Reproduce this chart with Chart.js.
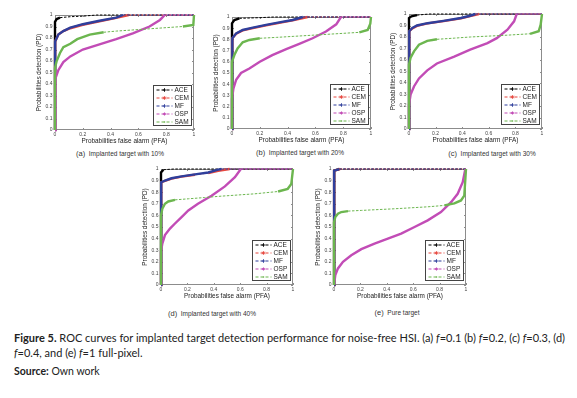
<!DOCTYPE html>
<html><head><meta charset="utf-8">
<script src="https://cdn.jsdelivr.net/npm/chart.js@4/dist/chart.umd.min.js"></script>
<style>
html,body{margin:0;padding:0;background:#fff;}
body{width:577px;height:398px;position:relative;overflow:hidden;font-family:"Liberation Sans",Arial,sans-serif;}
.sub{position:absolute;font-size:6.5px;color:#333;white-space:nowrap;transform:translate(-50%,-50%);line-height:8px;}
.sub span{font-size:7.5px;}
#cap{position:absolute;left:14px;top:330px;font-family:Lato,"Open Sans",sans-serif;font-size:11px;color:#222;line-height:15px;white-space:nowrap;}
#src{position:absolute;left:14px;top:364px;font-family:Lato,"Open Sans",sans-serif;font-size:10.5px;color:#222;line-height:14px;white-space:nowrap;}
#cap b,#src b{font-weight:bold;}
</style></head><body>
<div id="cap"><b>Figure 5.</b> ROC curves for implanted target detection performance for noise-free HSI. (a) <i>f</i>=0.1 (b) <i>f</i>=0.2, (c) <i>f</i>=0.3, (d)<br><i>f</i>=0.4, and (e) <i>f</i>=1 full-pixel.</div>
<div id="src"><b>Source:</b> Own work</div>
<script>
// ---------- data ----------
const seriesNames = ['ACE','CEM','MF','OSP','SAM'];
const xTickValues = [0,0.2,0.4,0.6,0.8,1];
const xTickLabels = ['0','0.2','0.4','0.6','0.8','1'];
const yTickValues = [0,0.1,0.2,0.3,0.4,0.5,0.6,0.7,0.8,0.9,1];
const yTickLabels = ['0','0.1','0.2','0.3','0.4','0.5','0.6','0.7','0.8','0.9','1'];
const subLetters = ['(a)','(b)','(c)','(d)','(e)'];
const subTexts = ['Implanted target with 10%','Implanted target with 20%','Implanted target with 30%','Implanted target with 40%','Pure target'];

// (a) f = 0.1
const aACE = [[0,0],[0,0.94],[0.012,0.965],[0.036,0.977],[0.108,0.985],[0.2,0.99],[0.3,1],[1,1]];
const aCEM = [[0,0],[0,0.48],[0.002,0.77],[0.024,0.83],[0.06,0.86],[0.11,0.885],[0.2,0.915],[0.32,0.945],[0.44,0.975],[0.53,1],[1,1]];
const aMF  = [[0,0],[0,0.48],[0.002,0.77],[0.024,0.83],[0.06,0.86],[0.11,0.89],[0.2,0.92],[0.32,0.95],[0.44,0.977],[0.49,1],[1,1]];
const aOSP = [[0,0],[0,0.39],[0.007,0.45],[0.024,0.52],[0.06,0.59],[0.11,0.64],[0.2,0.70],[0.32,0.745],[0.44,0.79],[0.56,0.84],[0.68,0.9],[0.755,0.957],[0.79,1],[1,1]];
const aSAM = [[0,0],[0,0.54],[0.012,0.6],[0.036,0.67],[0.06,0.72],[0.11,0.75],[0.16,0.79],[0.25,0.83],[0.35,0.85],[0.44,0.86],[0.56,0.87],[0.68,0.88],[0.8,0.89],[0.92,0.9],[0.995,0.913],[1,1]];
// (b) f = 0.2
const bACE = [[0,0],[0,0.943],[0.017,0.973],[0.053,0.988],[0.2,0.994],[0.3,1],[1,1]];
const bCEM = [[0,0],[0,0.57],[0.005,0.81],[0.03,0.85],[0.077,0.88],[0.15,0.9],[0.245,0.925],[0.34,0.948],[0.436,0.97],[0.544,1],[1,1]];
const bMF  = [[0,0],[0,0.57],[0.005,0.81],[0.03,0.854],[0.077,0.884],[0.15,0.905],[0.245,0.93],[0.34,0.952],[0.436,0.973],[0.51,1],[1,1]];
const bOSP = [[0,0],[0,0.27],[0.01,0.36],[0.03,0.44],[0.065,0.5],[0.125,0.54],[0.2,0.6],[0.29,0.66],[0.39,0.714],[0.484,0.76],[0.58,0.81],[0.676,0.87],[0.75,0.935],[0.784,1],[1,1]];
const bSAM = [[0,0],[0,0.6],[0.017,0.66],[0.04,0.72],[0.077,0.774],[0.125,0.795],[0.2,0.81],[0.32,0.818],[0.44,0.827],[0.68,0.845],[0.916,0.863],[0.976,0.884],[0.995,0.94],[1,1]];
// (c) f = 0.3
const cACE = [[0,0],[0,0.965],[0.018,0.98],[0.06,0.99],[0.15,1],[1,1]];
const cCEM = [[0,0],[0,0.47],[0.004,0.85],[0.025,0.875],[0.06,0.897],[0.14,0.918],[0.26,0.938],[0.39,0.962],[0.46,0.982],[0.525,1],[1,1]];
const cMF  = [[0,0],[0,0.47],[0.004,0.85],[0.025,0.878],[0.06,0.9],[0.14,0.92],[0.26,0.94],[0.39,0.965],[0.46,0.985],[0.5,1],[1,1]];
const cOSP = [[0,0],[0,0.21],[0.012,0.3],[0.0375,0.37],[0.075,0.44],[0.1375,0.51],[0.21,0.57],[0.34,0.63],[0.46,0.69],[0.59,0.747],[0.66,0.79],[0.74,0.863],[0.79,0.936],[0.81,1],[1,1]];
const cSAM = [[0,0],[0,0.56],[0.012,0.62],[0.0375,0.675],[0.075,0.733],[0.1375,0.767],[0.21,0.78],[0.34,0.79],[0.46,0.8],[0.71,0.814],[0.91,0.828],[0.975,0.85],[0.99,0.907],[1,1]];
// (d) f = 0.4
const dACE = [[0,0],[0,0.97],[0.018,0.994],[0.1,1],[1,1]];
const dCEM = [[0,0],[0,0.46],[0.003,0.886],[0.03,0.898],[0.08,0.917],[0.156,0.934],[0.257,0.95],[0.358,0.965],[0.433,0.985],[0.52,1],[1,1]];
const dMF  = [[0,0],[0,0.46],[0.003,0.886],[0.03,0.9],[0.08,0.92],[0.156,0.937],[0.257,0.954],[0.358,0.97],[0.433,0.994],[0.458,1],[1,1]];
const dOSP = [[0,0],[0,0.286],[0.01,0.357],[0.03,0.43],[0.068,0.486],[0.106,0.53],[0.156,0.586],[0.207,0.643],[0.28,0.7],[0.383,0.77],[0.484,0.85],[0.56,0.93],[0.605,1],[1,1]];
const dSAM = [[0,0],[0,0.6],[0.01,0.657],[0.03,0.7],[0.055,0.72],[0.106,0.734],[0.207,0.743],[0.33,0.754],[0.458,0.766],[0.71,0.786],[0.887,0.806],[0.96,0.829],[0.987,0.87],[1,1]];
// (e) f = 1
const eACE = [[0,0],[0,0.4],[0.002,0.986],[0.03,0.996],[0.04,1],[1,1]];
const eCEM = [[0,0],[0,0.4],[0.002,0.986],[0.03,0.994],[0.045,1],[1,1]];
const eMF  = [[0,0],[0,0.4],[0.002,0.986],[0.03,0.994],[0.04,1],[1,1]];
const eOSP = [[0,0],[0.01,0.086],[0.03,0.143],[0.068,0.2],[0.131,0.257],[0.207,0.309],[0.307,0.357],[0.408,0.4],[0.509,0.443],[0.61,0.5],[0.71,0.557],[0.81,0.629],[0.887,0.714],[0.937,0.786],[0.975,0.886],[0.995,1],[1,1]];
const eSAM = [[0,0],[0,0.54],[0.01,0.586],[0.03,0.614],[0.055,0.629],[0.106,0.637],[0.207,0.643],[0.458,0.657],[0.71,0.674],[0.836,0.686],[0.912,0.703],[0.962,0.729],[0.987,0.771],[1,1]];

const panelData = [
  [aACE,aCEM,aMF,aOSP,aSAM],
  [bACE,bCEM,bMF,bOSP,bSAM],
  [cACE,cCEM,cMF,cOSP,cSAM],
  [dACE,dCEM,dMF,dOSP,dSAM],
  [eACE,eCEM,eMF,eOSP,eSAM]
];

// ---------- layout & style ----------
const seriesColors = ['#000000','#e6473f','#2f3f9c','#c24cb6','#6cb64f'];
const markerKinds = ['plus','star','plus','diamond','dot'];
const chartAreas = [[55,15,194,130],[232,17,371,129],[409,14,542,129],[161,169,293,285],[334,169,466,285]];
const subPos = [[120,154],[300,153],[492,154],[212,314],[397,313]];
const YW = 22, XH = 16, PT = 6, PR = 6;
const FONT = '"Liberation Sans", Arial, sans-serif';

function isThin(ctx){
  const a = ctx.p0.parsed, b = ctx.p1.parsed;
  const dx = b.x - a.x, dy = b.y - a.y;
  return dx > 0 && dy / dx < 0.15;
}

function drawMarker(ctx, kind, x, y, color){
  ctx.save();
  ctx.strokeStyle = color; ctx.fillStyle = color; ctx.lineWidth = 0.9; ctx.setLineDash([]);
  const r = 1.8;
  ctx.beginPath();
  if (kind === 'plus' || kind === 'star'){
    ctx.moveTo(x - r, y); ctx.lineTo(x + r, y); ctx.moveTo(x, y - r); ctx.lineTo(x, y + r);
    if (kind === 'star'){ ctx.moveTo(x-r*0.7,y-r*0.7); ctx.lineTo(x+r*0.7,y+r*0.7); ctx.moveTo(x-r*0.7,y+r*0.7); ctx.lineTo(x+r*0.7,y-r*0.7); }
    ctx.stroke();
  } else if (kind === 'diamond'){
    ctx.moveTo(x, y - r); ctx.lineTo(x + r, y); ctx.lineTo(x, y + r); ctx.lineTo(x - r, y); ctx.closePath(); ctx.fill();
  } else {
    ctx.arc(x, y, 0.8, 0, Math.PI * 2); ctx.fill();
  }
  ctx.restore();
}

const framePlugin = {
  id: 'frame',
  beforeDatasetsDraw(chart){
    const {ctx, chartArea: ca, scales} = chart;
    ctx.save();
    ctx.strokeStyle = '#8c8c8c'; ctx.lineWidth = 1;
    ctx.strokeRect(ca.left + 0.5, ca.top + 0.5, ca.right - ca.left - 1, ca.bottom - ca.top - 1);
    ctx.beginPath();
    xTickValues.forEach(v => { const px = Math.round(scales.x.getPixelForValue(v)) + 0.5; ctx.moveTo(px, ca.bottom); ctx.lineTo(px, ca.bottom - 2); ctx.moveTo(px, ca.top); ctx.lineTo(px, ca.top + 2); });
    yTickValues.forEach(v => { const py = Math.round(scales.y.getPixelForValue(v)) + 0.5; ctx.moveTo(ca.left, py); ctx.lineTo(ca.left + 2, py); ctx.moveTo(ca.right, py); ctx.lineTo(ca.right - 2, py); });
    ctx.stroke();
    ctx.restore();
  },
  afterDatasetsDraw(chart){
    const {ctx, chartArea: ca} = chart;
    const bw = 38, bh = 40;
    const bx = Math.round(ca.right - 3 - bw) + 0.5, by = Math.round(ca.bottom - 5 - bh) + 0.5;
    ctx.save();
    ctx.fillStyle = '#fff'; ctx.fillRect(bx, by, bw, bh);
    ctx.strokeStyle = '#444'; ctx.lineWidth = 1; ctx.strokeRect(bx, by, bw, bh);
    ctx.font = '6.5px ' + FONT; ctx.textBaseline = 'middle'; ctx.textAlign = 'left';
    seriesNames.forEach((name, i) => {
      const y = by + 4.5 + i * 8;
      ctx.strokeStyle = seriesColors[i]; ctx.lineWidth = 1.1; ctx.setLineDash([3, 2]);
      ctx.beginPath(); ctx.moveTo(bx + 3, y); ctx.lineTo(bx + 19, y); ctx.stroke();
      drawMarker(ctx, markerKinds[i], bx + 11, y, seriesColors[i]);
      ctx.fillStyle = '#222'; ctx.fillText(name, bx + 21, y + 0.3);
    });
    ctx.restore();
  }
};

function makePanel(k){
  const ca = chartAreas[k];
  const W = ca[2] - ca[0], H = ca[3] - ca[1];
  const cw = W + YW + PR, ch = H + XH + PT;
  const cv = document.createElement('canvas');
  cv.width = cw; cv.height = ch;
  cv.style.cssText = `position:absolute;left:${ca[0]-YW}px;top:${ca[1]-PT}px;width:${cw}px;height:${ch}px;`;
  document.body.appendChild(cv);

  const datasets = panelData[k].map((pts, i) => ({
    label: seriesNames[i],
    data: pts.map(p => ({x: p[0], y: p[1]})),
    borderColor: seriesColors[i],
    backgroundColor: seriesColors[i],
    borderWidth: 2.4,
    pointRadius: 0,
    tension: 0,
    showLine: true,
    clip: false,
    order: 5 - i,
    segment: {
      borderWidth: c => isThin(c) ? 1 : 2.4,
      borderDash: c => isThin(c) ? [2.5, 1.5] : undefined
    }
  }));

  new Chart(cv, {
    type: 'scatter',
    data: { datasets },
    options: {
      responsive: false, animation: false, devicePixelRatio: 1,
      layout: { padding: { top: PT, right: PR, left: 0, bottom: 0 } },
      plugins: { legend: { display: false }, tooltip: { enabled: false } },
      scales: {
        x: {
          type: 'linear', min: 0, max: 1,
          afterBuildTicks: s => { s.ticks = xTickValues.map(v => ({value: v})); },
          afterFit: s => { s.height = XH; },
          ticks: { autoSkip: false, maxRotation: 0, padding: 2, color: '#444', font: { size: 5, family: FONT }, callback: (v, i) => xTickLabels[i] },
          grid: { display: false, drawTicks: false },
          border: { display: false },
          title: { display: true, text: 'Probabilities false alarm (PFA)', color: '#222', font: { size: 6.4, family: FONT, lineHeight: 1 }, padding: { top: 0, bottom: 1.75 } }
        },
        y: {
          type: 'linear', min: 0, max: 1,
          afterBuildTicks: s => { s.ticks = yTickValues.map(v => ({value: v})); },
          afterFit: s => { s.width = YW; },
          ticks: { autoSkip: false, padding: 2.5, color: '#444', font: { size: 5, family: FONT }, callback: (v, i) => yTickLabels[i] },
          grid: { display: false, drawTicks: false },
          border: { display: false },
          title: { display: true, text: 'Probabilities detection (PD)', color: '#222', font: { size: 6.4, family: FONT, lineHeight: 1 }, padding: { top: 3.25, bottom: 0 } }
        }
      }
    },
    plugins: [framePlugin]
  });

  const s = document.createElement('div');
  s.className = 'sub';
  s.style.left = subPos[k][0] + 'px';
  s.style.top = subPos[k][1] + 'px';
  s.innerHTML = '<span>' + subLetters[k] + '</span>&nbsp; ' + subTexts[k];
  document.body.appendChild(s);
}

for (let k = 0; k < 5; k++) makePanel(k);
</script>
</body></html>
